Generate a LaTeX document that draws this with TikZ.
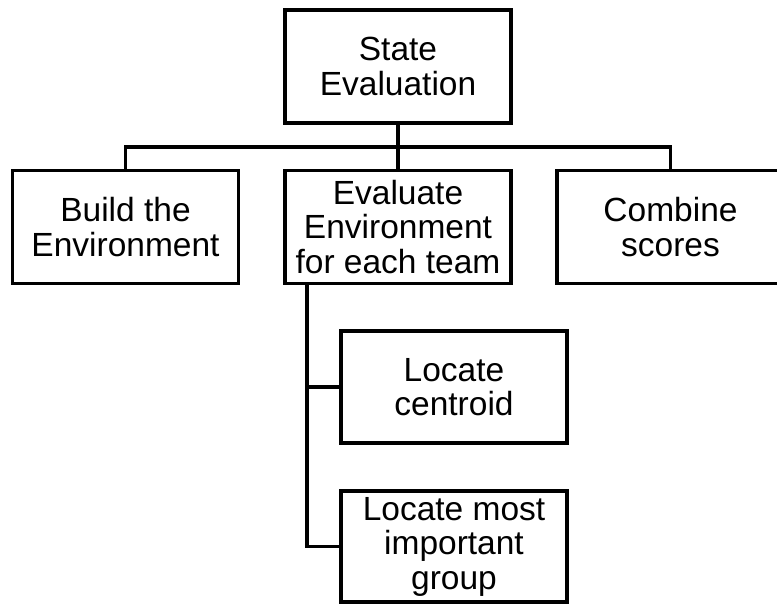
\documentclass[tikz,border=0pt]{standalone}
\usepackage{fontspec}
\setmainfont{Liberation Sans}
\begin{document}
\begin{tikzpicture}[x=1pt,y=-1pt,
  box/.style={draw=black, line width=3.5pt, fill=white, rectangle, align=center,
    minimum width=226pt, minimum height=113pt, inner sep=0pt,
    font=\fontsize{33.5}{34.5}\selectfont},
  conn/.style={draw=black, line width=3.5pt}]
\clip (0,0) rectangle (777,603);
\useasboundingbox (0,0) rectangle (777,603);
\fill[white] (0,0) rectangle (777,603);
\node[box] (top) at (398,66.5) {State\\Evaluation};
\node[box] (left) at (125.5,227) {Build the\\Environment};
\node[box] (mid) at (398,227) {Evaluate\\Environment\\for each team};
\node[box, minimum width=227pt] (right) at (670.5,227) {Combine\\scores};
\node[box, minimum height=112pt] (cen) at (454,387) {Locate\\centroid};
\node[box, minimum height=111pt] (grp) at (454,546.5) {Locate most\\important\\group};
\coordinate (bus) at (398,147);
\coordinate (trunk) at (307,283);
\draw[conn] (top.south) -- (mid.north);
\draw[conn] (left.north) |- (bus) -| (right.north);
\draw[conn] (trunk) |- (cen.west);
\draw[conn] (trunk) |- (grp.west);
\end{tikzpicture}
\end{document}
